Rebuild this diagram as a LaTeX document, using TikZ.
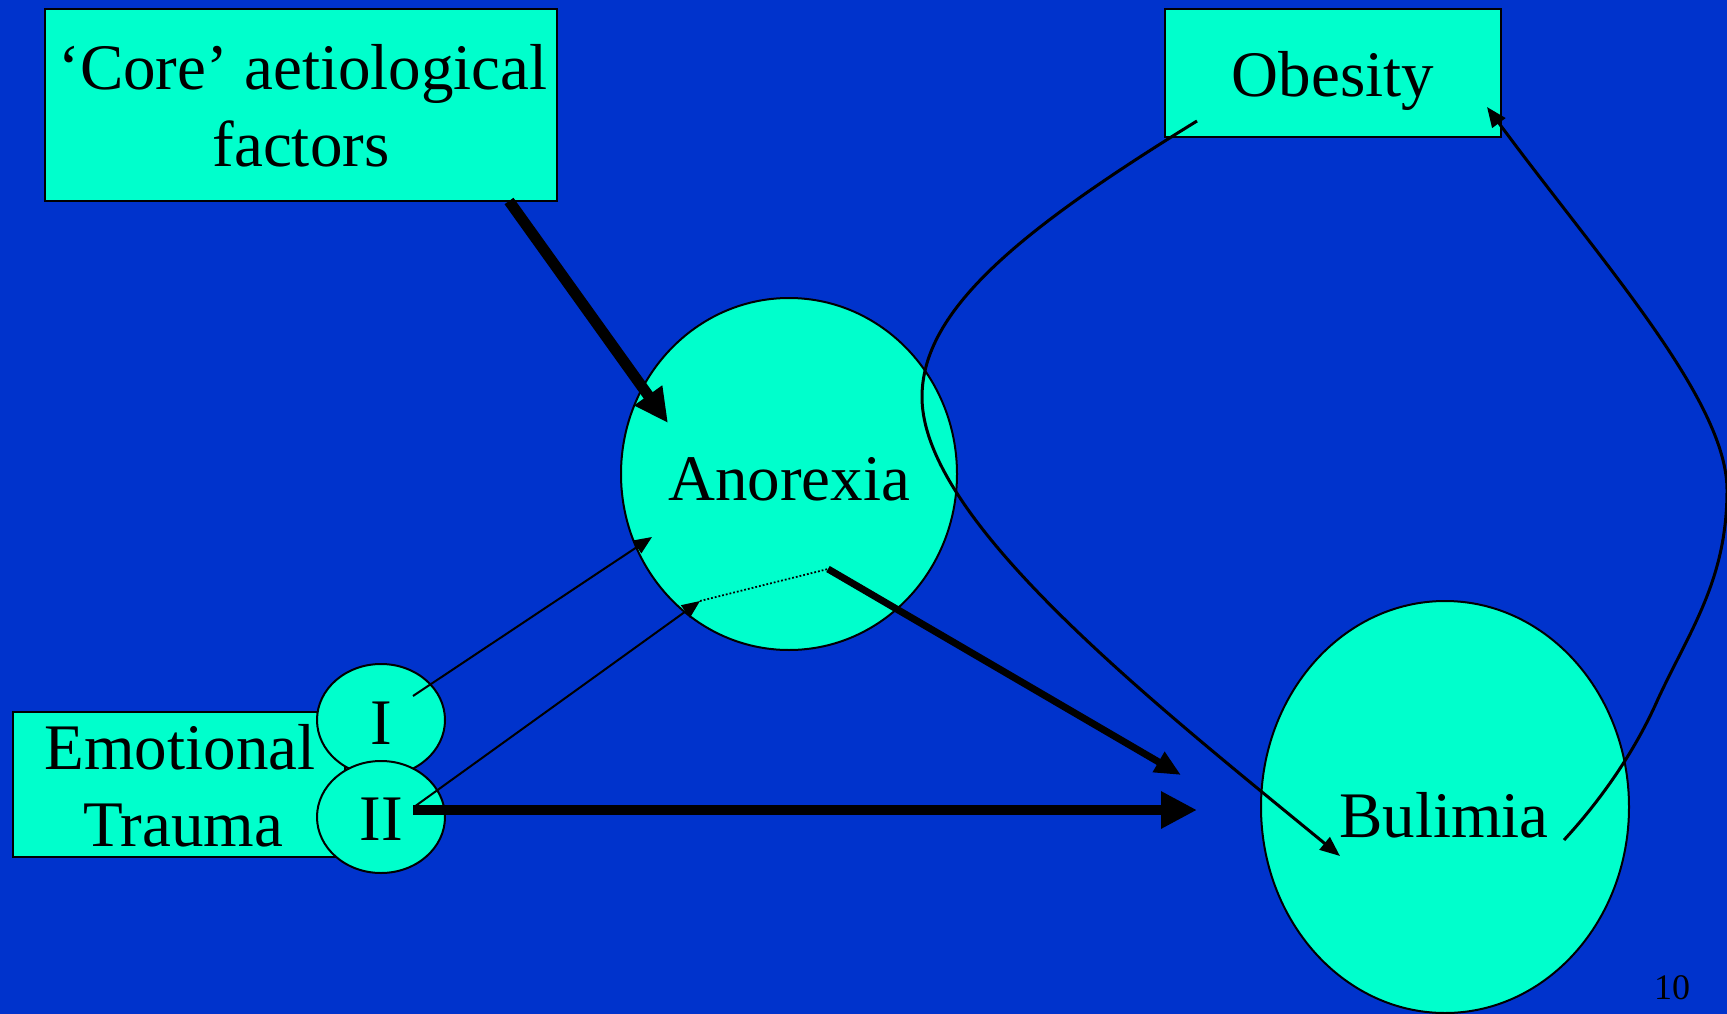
\documentclass[tikz,border=0pt]{standalone}
\usepackage{fontspec}
\setmainfont{Liberation Serif}
\usetikzlibrary{shapes.geometric,arrows.meta}
\definecolor{slideblue}{RGB}{0,51,204}
\definecolor{aqua}{RGB}{0,255,204}

\begin{document}
\begin{tikzpicture}[x=1pt,y=-1pt,
  box/.style={draw=black,line width=2.5pt,fill=aqua,rectangle,inner sep=0pt},
  oval/.style={draw=black,line width=2pt,fill=aqua,ellipse,inner sep=0pt},
  lbl/.style={font=\fontsize{65}{77}\selectfont,inner sep=0pt,anchor=base},
  thinarrow/.style={line width=2pt,-{Triangle[length=18pt,width=15pt]}},
  curvearrow/.style={line width=3pt,-{Triangle[length=20pt,width=16pt]}},
  heavyarrow/.style={line width=#1,line cap=butt}]
  % page and background
  \useasboundingbox (0,0) rectangle (1727,1014);
  \fill[slideblue] (0,0) rectangle (1727,1014);

  % boxes
  \node[box,minimum width=512pt,minimum height=192pt] (core) at (301,105) {};
  \node[box,minimum width=336pt,minimum height=128pt] (obesity) at (1333,73) {};
  \node[box,minimum width=332pt,minimum height=145pt] (trauma) at (179,784.5) {};

  % ellipses
  \node[oval,minimum width=336pt,minimum height=352pt] (anorexia) at (789,474) {};
  \node[oval,minimum width=368pt,minimum height=412pt] (bulimia) at (1445,807) {};
  \node[oval,minimum width=128pt,minimum height=112pt] (typeI) at (381,720) {};
  \node[oval,minimum width=128pt,minimum height=112pt] (typeII) at (381,817) {};

  % labels
  \node[lbl] (coreA) at (303,90) {‘Core’ aetiological};
  \node[lbl] (coreB) at (301,167) {factors};
  \node[lbl] (obesityT) at (1333,97) {Obesity};
  \node[lbl] (anorexiaT) at (789,500) {Anorexia};
  \node[lbl] (bulimiaT) at (1444,837) {Bulimia};
  \node[lbl] (traumaA) at (180,769) {Emotional};
  \node[lbl] (traumaB) at (183,846) {Trauma};
  \node[lbl] (typeIT) at (381,744) {I};
  \node[lbl] (typeIIT) at (381,840) {II};
  \node[lbl,font=\fontsize{36}{40}\selectfont] (pagenum) at (1672,999) {10};

  % connector end points
  \coordinate (coreOut) at (509,201);
  \coordinate (anoIn) at (668,423);
  \coordinate (anoOut) at (828,569);
  \coordinate (bulIn1) at (1181,775);
  \coordinate (iiOut) at (413,810);
  \coordinate (bulIn2) at (1197,810);
  \coordinate (iOut) at (413,696);
  \coordinate (anoInI) at (652,537);
  \coordinate (iiOut2) at (414,807);
  \coordinate (anoInII) at (700,601);
  \coordinate (obeOut) at (1197,121);
  \coordinate (bulIn3) at (1340,856);
  \coordinate (bulOut) at (1564,840);
  \coordinate (obeIn) at (1487,107);

  % heavy arrows
  \draw[heavyarrow=11pt,-{Triangle[length=34pt,width=32pt]}] (coreOut) -- (anoIn);
  \draw[heavyarrow=7pt,-{Triangle[length=26pt,width=22pt]}] (anoOut) -- (bulIn1);
  \draw[heavyarrow=10pt,-{Triangle[length=36pt,width=35pt]}] (iiOut) -- (bulIn2);

  % thin arrows and dotted link
  \draw[thinarrow] (iOut) -- (anoInI);
  \draw[thinarrow] (iiOut2) -- (anoInII);
  \draw[line width=1.8pt,dotted] (anoInII) -- (anoOut);

  % obesity to bulimia
  \draw[curvearrow] (obeOut) .. controls (1020,230) and (922,310) .. (922,397)
    .. controls (922,520) and (1150,700) .. (bulIn3);

  % bulimia to obesity
  \draw[curvearrow] (bulOut) .. controls (1610,790) and (1640,740) .. (1658,699)
    .. controls (1690,630) and (1727,580) .. (1727,490)
    .. controls (1727,400) and (1600,260) .. (obeIn);
\end{tikzpicture}
\end{document}
